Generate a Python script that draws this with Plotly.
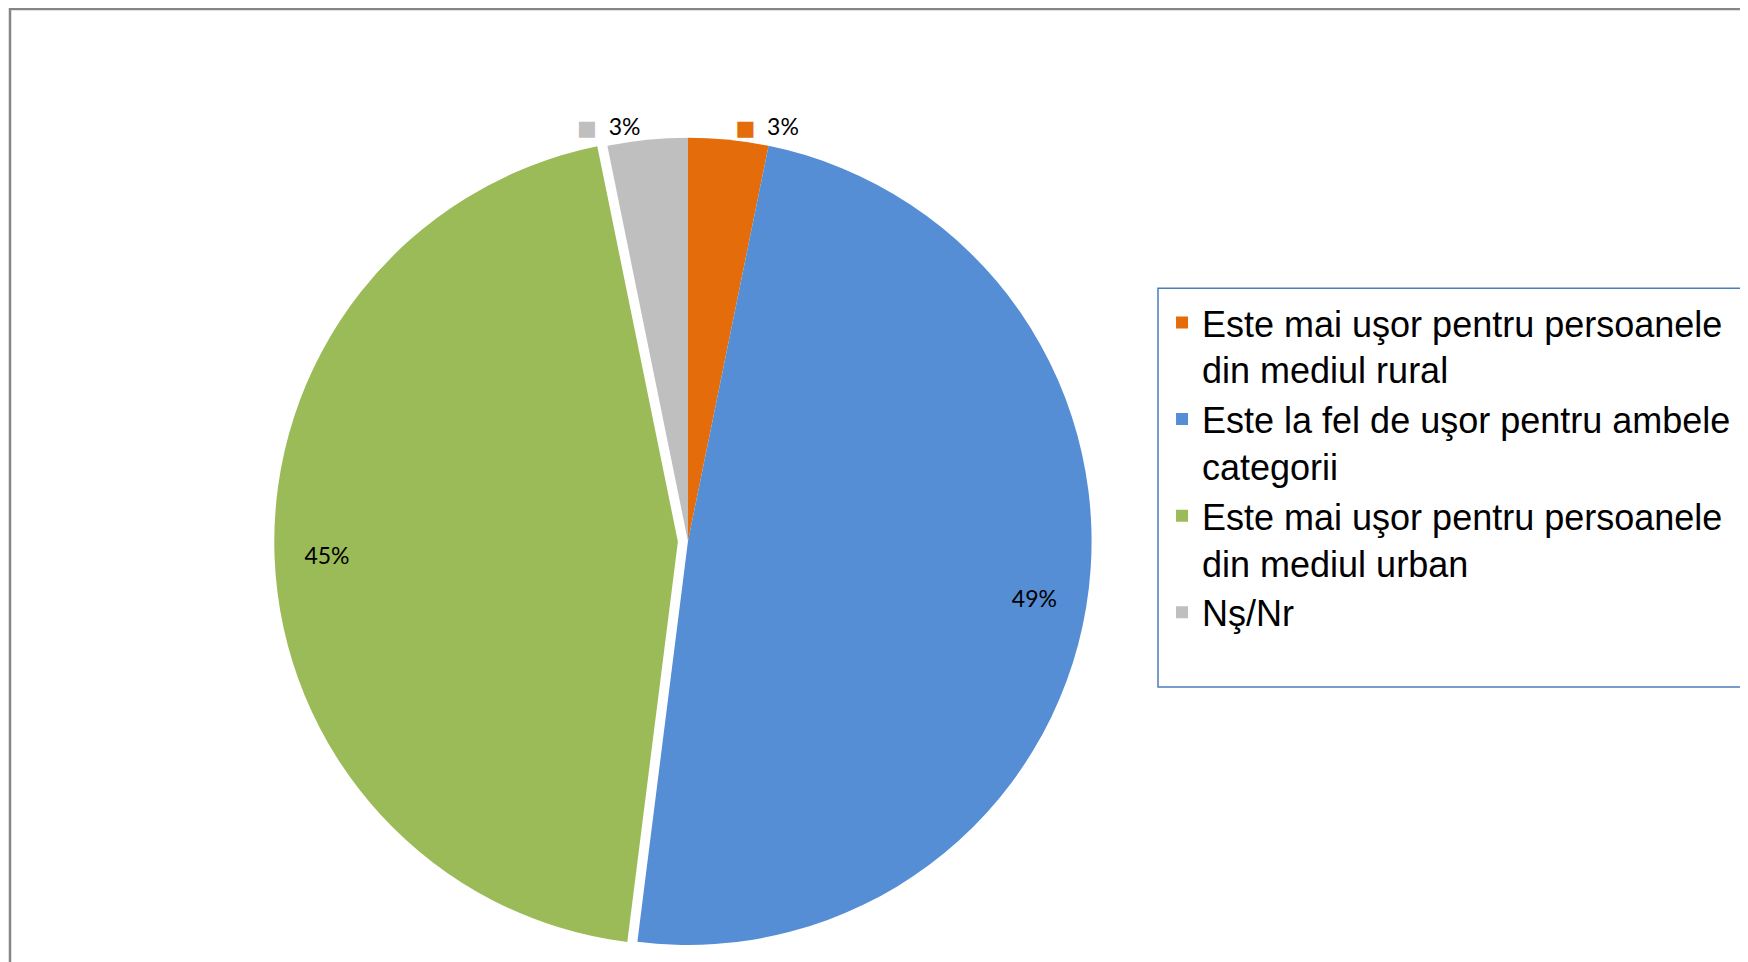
import plotly.graph_objects as go

# answers (percent of respondents), clockwise from 12 o'clock
labels = [
    "Este mai uşor pentru persoanele<br>din mediul rural",
    "Este la fel de uşor pentru ambele<br>categorii",
    "Este mai uşor pentru persoanele<br>din mediul urban",
    "Nş/Nr",
]
values = [3.2, 48.8, 44.8, 3.2]
colors = ["#E46C0A", "#558ED5", "#9BBB59", "#BFBFBF"]
pulls = [0, 0, 0.025, 0]

# small slices get their label outside, with a coloured key in front
small = [v < 10 for v in values]
out_tpl = ['<span style="color:%s;font-family:DejaVu Sans;font-size:21px">■</span>\u00a0\u00a0%%{percent:.0%%}' % c
           if s else "" for c, s in zip(colors, small)]
out_pos = ["outside" if s else "none" for s in small]
in_pos = ["none" if s else "inside" for s in small]

dom_x = [0.139, 0.639]
dom_y = [0.0, 0.8737]
lbl_font = dict(family="Lato", size=23, color="black")

fig = go.Figure()
fig.add_trace(go.Pie(
    labels=labels, values=values, sort=False, direction="clockwise", rotation=0,
    pull=pulls, marker=dict(colors=colors, line=dict(width=0)),
    texttemplate=out_tpl, textposition=out_pos, textfont=lbl_font,
    domain=dict(x=dom_x, y=dom_y), hoverinfo="label+percent",
))
# transparent ring on top: puts the big-slice labels near the rim, like Excel
fig.add_trace(go.Pie(
    labels=labels, values=values, sort=False, direction="clockwise", rotation=0,
    pull=pulls, hole=0.74, showlegend=False, hoverinfo="skip",
    marker=dict(colors=["rgba(0,0,0,0)"] * 4, line=dict(width=0)),
    texttemplate="%{percent:.0%}", textposition=in_pos, insidetextorientation="horizontal",
    textfont=lbl_font,
    domain=dict(x=dom_x, y=dom_y),
))

fig.update_layout(
    width=1748, height=962,
    margin=dict(l=0, r=0, t=0, b=0),
    paper_bgcolor="white", plot_bgcolor="white",
    font=dict(family="Liberation Sans", color="black"),
    legend=dict(
        x=0.6602, y=0.6995, xanchor="left", yanchor="top",
        font=dict(family="Liberation Sans", size=36, color="black"),
        borderwidth=0, valign="top", bgcolor="rgba(0,0,0,0)",
    ),
    shapes=[
        # outer chart-area frame (only top and left edges are visible)
        dict(type="rect", xref="paper", yref="paper",
             x0=0.00114, y0=0.999, x1=1.02, y1=-0.02,
             line=dict(color="#868686", width=2.5)),
        # legend frame
        dict(type="rect", xref="paper", yref="paper",
             x0=0.6579, y0=0.704, x1=0.9955, y1=0.283,
             line=dict(color="#4A7EBB", width=1.5)),
    ],
)

fig.write_html("out.html")
